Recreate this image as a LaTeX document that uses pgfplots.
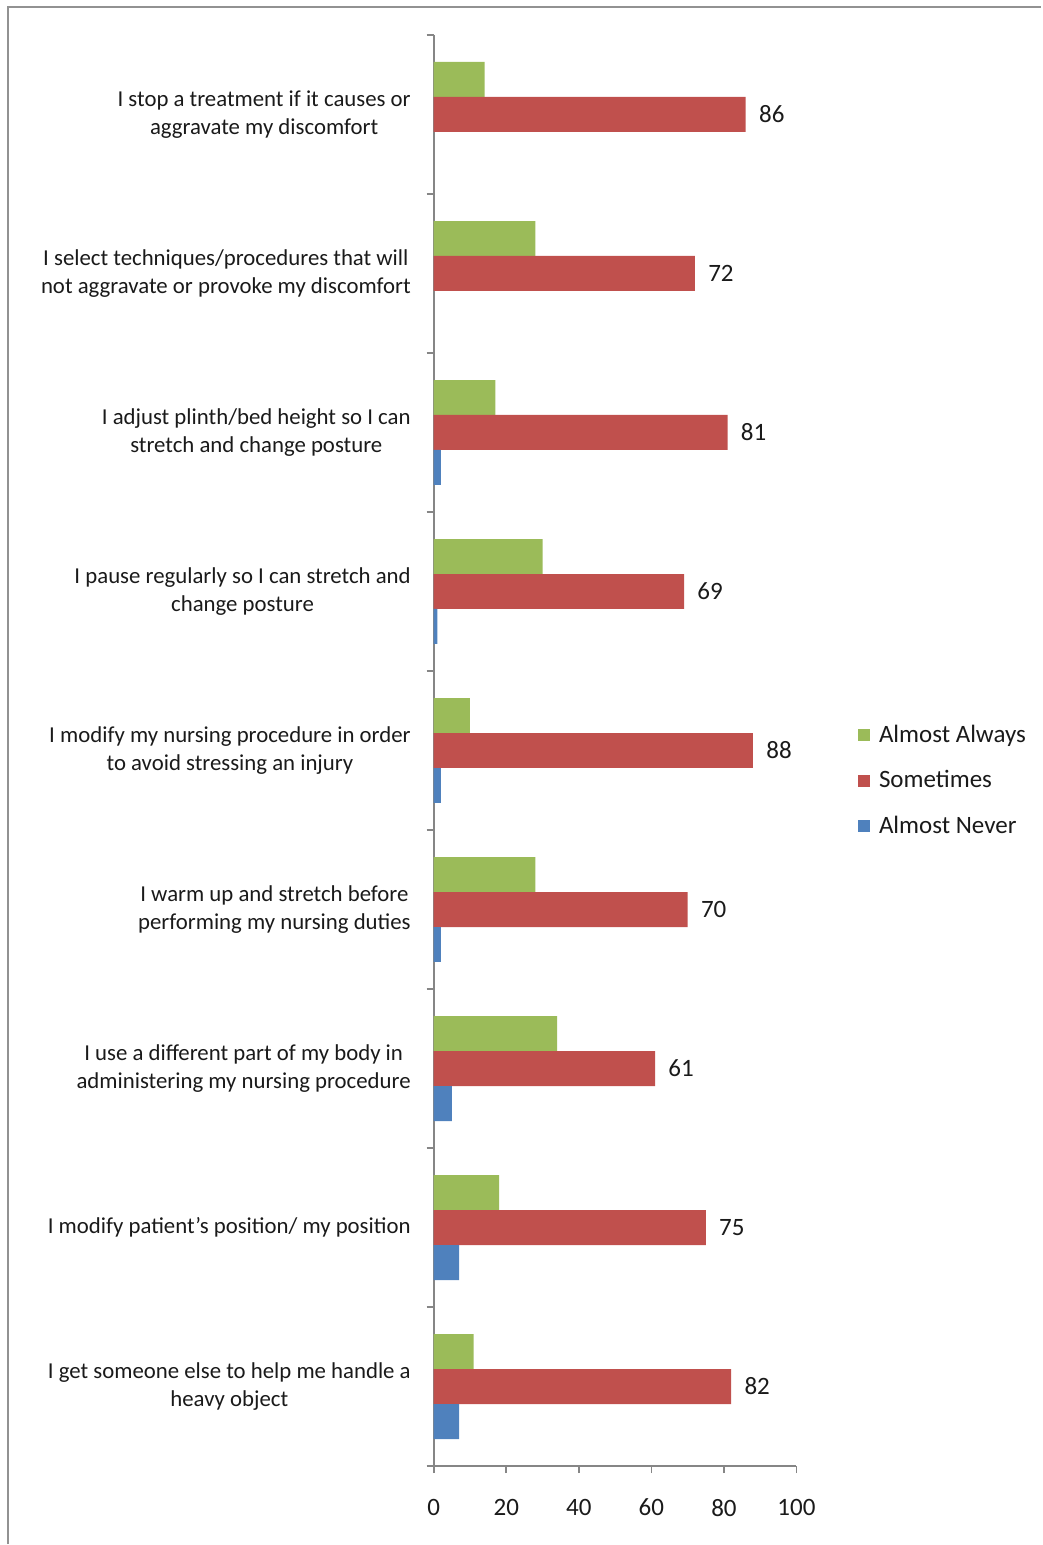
\documentclass[border=0pt]{standalone}
\usepackage{pgfplots}
\pgfplotsset{compat=1.18}
\usepackage{fontspec}
\setmainfont{Carlito}
\definecolor{cgreen}{HTML}{9BBB59}
\definecolor{cred}{HTML}{C0504D}
\definecolor{cblue}{HTML}{4F81BD}
\definecolor{caxis}{HTML}{868686}
\definecolor{ctext}{HTML}{1A1A1A}
\begin{document}
\begin{tikzpicture}
\path (0pt,0pt) rectangle (521pt,772.5pt);
\draw[caxis!90, line width=1pt] (4pt,0pt) -- (4pt,769pt) -- (521pt,769pt);
\begin{axis}[
  at={(217pt,39pt)}, anchor=south west,
  scale only axis, width=181.5pt, height=716pt,
  xmin=0, xmax=100, ymin=-0.5, ymax=8.5,
  enlargelimits=false, clip=false,
  axis x line*=bottom, axis y line*=left,
  axis line style={caxis, line width=0.8pt},
  tick style={caxis, line width=0.8pt},
  tick align=outside, major tick length=3.5pt,
  xtick={0,20,...,100},
  xticklabel style={font=\fontsize{12.5}{14}\selectfont, text=ctext, yshift=-9.5pt},
  /pgf/number format/assume math mode=true,
  ytick={-0.5,0.5,...,8.5}, yticklabels={},
  extra y ticks={0,1,2,3,4,5,6,7,8},
  extra y tick labels={
    {I get someone else to help me handle a\\heavy object},
    {I modify patient’s position/ my position},
    {I use a different part of my body in\\administering my nursing procedure},
    {I warm up and stretch before\\performing my nursing duties},
    {I modify my nursing procedure in order\\to avoid stressing an injury},
    {I pause regularly so I can stretch and\\change posture},
    {I adjust plinth/bed height so I can\\stretch and change posture},
    {I select techniques/procedures that will\\not aggravate or provoke my discomfort},
    {I stop a treatment if it causes or\\aggravate my discomfort}},
  extra y tick style={tick style={draw=none},
    yticklabel style={align=center, font=\fontsize{11.4}{14}\selectfont, text=ctext, xshift=-4.5pt}},
  xbar, bar width=0.22,
  legend cell align=left,
  legend style={at={(rel axis cs:1.152,0.479)}, anchor=west, draw=none, fill=none,
    font=\fontsize{12.5}{14}\selectfont, text=ctext, row sep=8.5pt, column sep=2.5pt},
  legend image code/.code={\fill[#1] (-3.5pt,-3pt) rectangle (2.5pt,3pt);},
]
\addplot[fill=cgreen, draw=none, bar shift=0.22] coordinates {
  (14,8) (28,7) (17,6) (30,5) (10,4) (28,3) (34,2) (18,1) (11,0)};
\addlegendentry{Almost Always}
\addplot[fill=cred, draw=none, bar shift=0,
  nodes near coords, every node near coord/.append style={anchor=west, inner sep=0pt, xshift=6.5pt,
    font=\fontsize{12.5}{14}\selectfont, text=ctext},
  /pgf/number format/assume math mode=true] coordinates {
  (86,8) (72,7) (81,6) (69,5) (88,4) (70,3) (61,2) (75,1) (82,0)};
\addlegendentry{Sometimes}
\addplot[fill=cblue, draw=none, bar shift=-0.22] coordinates {
  (2,6) (1,5) (2,4) (2,3) (5,2) (7,1) (7,0)};
\addlegendentry{Almost Never}
\end{axis}
\end{tikzpicture}
\end{document}
